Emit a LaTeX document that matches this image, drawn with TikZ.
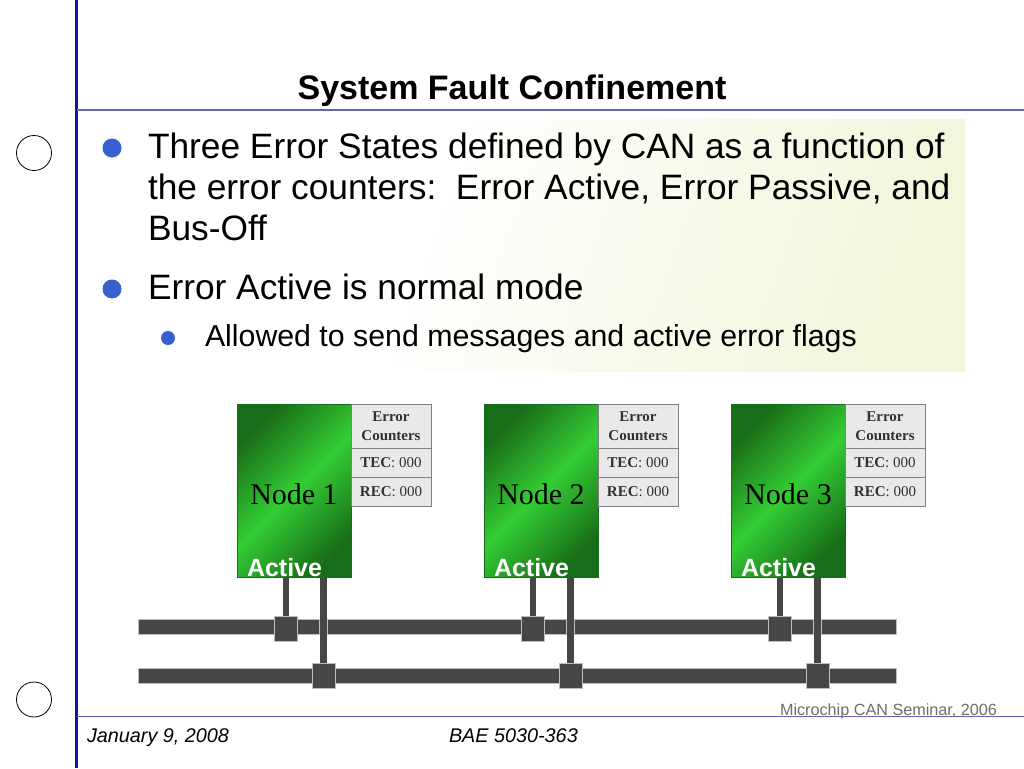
\documentclass[tikz,border=0pt]{standalone}
\usepackage{fontspec}
\setmainfont{Liberation Sans}
\newfontfamily\serifx{Liberation Serif}
\usetikzlibrary{positioning}
\definecolor{navy}{RGB}{20,20,150}
\definecolor{rulec}{RGB}{100,100,185}
\definecolor{dotblue}{RGB}{55,95,205}
\definecolor{busgray}{RGB}{70,70,70}
\definecolor{edgegray}{RGB}{190,190,190}
\definecolor{cellfill}{RGB}{233,233,233}
\definecolor{celledge}{RGB}{128,128,128}
\definecolor{celltext}{RGB}{50,50,50}
\definecolor{gbright}{RGB}{52,205,52}
\definecolor{gdark}{RGB}{24,110,24}
\definecolor{paleyg}{RGB}{242,246,218}
\definecolor{footgray}{RGB}{110,110,110}
\tikzset{
  every node/.style={inner sep=0pt, outer sep=0pt},
  bul/.style={circle, fill=dotblue, minimum size=19pt},
  subbul/.style={circle, fill=dotblue, minimum size=14pt},
  bodytext/.style={anchor=base west, font=\fontsize{35.3}{41}\selectfont},
  nodebox/.style={minimum width=114pt, minimum height=173pt, draw=gdark, line width=0.6pt,
     top color=gdark, bottom color=gdark, middle color=gbright, shading angle=45},
  cell/.style={draw=celledge, fill=cellfill, line width=0.8pt, minimum width=80pt,
     text=celltext, font=\serifx\fontsize{15}{19}\selectfont, align=center},
  busbar/.style={fill=busgray, draw=edgegray, line width=0.7pt, minimum width=758pt, minimum height=15pt},
  tap/.style={fill=busgray, draw=edgegray, line width=0.7pt, minimum width=23pt, minimum height=25pt},
  stubline/.style={draw=busgray, line width=6.5pt},
  stubedge/.style={draw=edgegray, line width=8.5pt},
  foot/.style={anchor=base west, font=\itshape\fontsize{19.8}{22}\selectfont},
}
\begin{document}
\begin{tikzpicture}[x=1pt,y=-1pt]
\useasboundingbox (0,0) rectangle (1024,768);
\fill[white] (0,0) rectangle (1024,768);
% background tint
\shade[left color=white, right color=paleyg, shading angle=70] (380,119) rectangle (965,371);
% frame lines
\draw[navy, line width=2.5pt] (76.5,0) -- (76.5,768);
\draw[rulec, line width=1.3pt] (77,110) -- (1024,110);
\draw[rulec, line width=1.3pt] (77,716.5) -- (1024,716.5);
\node[circle, draw=black, line width=0.8pt, minimum size=35pt] (c1) at (34,153) {};
\node[circle, draw=black, line width=0.8pt, minimum size=35pt] (c2) at (34,699.5) {};
% title
\node[anchor=base, font=\bfseries\fontsize{34}{40}\selectfont] (title) at (512,99) {System Fault Confinement};
% bullets
\node[bul] (b1) at (112,148) {};
\node[bodytext] (t1a) at (148,158) {Three Error States defined by CAN as a function of};
\node[bodytext] (t1b) at (148,199) {the error counters:\ \ Error Active, Error Passive, and};
\node[bodytext] (t1c) at (148,240) {Bus-Off};
\node[bul] (b2) at (112,289) {};
\node[bodytext] (t2) at (148,299) {Error Active is normal mode};
\node[subbul] (b3) at (168,338) {};
\node[anchor=base west, font=\fontsize{30.3}{36}\selectfont] (t3) at (205,346) {Allowed to send messages and active error flags};
% buses
\node[busbar] (busA) at (517,627) {};
\node[busbar] (busB) at (517,676) {};
\foreach \i/\dx in {1/0,2/247,3/494}{
  \node[nodebox] (box\i) at (294+\dx,491) {};
  \node[font=\serifx\fontsize{30}{30}\selectfont, text=black] (lbl\i) at (294+\dx,494) {Node \i};
  \node[anchor=base west, text=white, font=\bfseries\fontsize{25}{25}\selectfont] (act\i) at (247+\dx,576) {Active};
  \node[cell, minimum height=44pt, anchor=north west] (ec\i) at (box\i.north east) {\textbf{Error}\\\textbf{Counters}};
  \node[cell, minimum height=29pt, anchor=north] (tec\i) at (ec\i.south) {\textbf{TEC}: 000};
  \node[cell, minimum height=29pt, anchor=north] (rec\i) at (tec\i.south) {\textbf{REC}: 000};
  \node[tap] (ta\i) at (286+\dx,628.5) {};
  \node[tap] (tb\i) at (323.5+\dx,675.5) {};
}
\foreach \i in {1,2,3}{
  \draw[stubline] (ta\i.north |- box\i.south) -- (ta\i.north);
  \draw[stubedge] (tb\i.north |- busA.north) -- (tb\i.north |- busA.south);
  \draw[stubline] (tb\i.north |- box\i.south) -- (tb\i.north);
}
% footer
\node[anchor=base east, text=footgray, font=\fontsize{16.2}{18}\selectfont] (ms) at (997,715) {Microchip CAN Seminar, 2006};
\node[foot] (date) at (87,742) {January 9, 2008};
\node[foot] (course) at (449,742) {BAE 5030-363};
\end{tikzpicture}
\end{document}
